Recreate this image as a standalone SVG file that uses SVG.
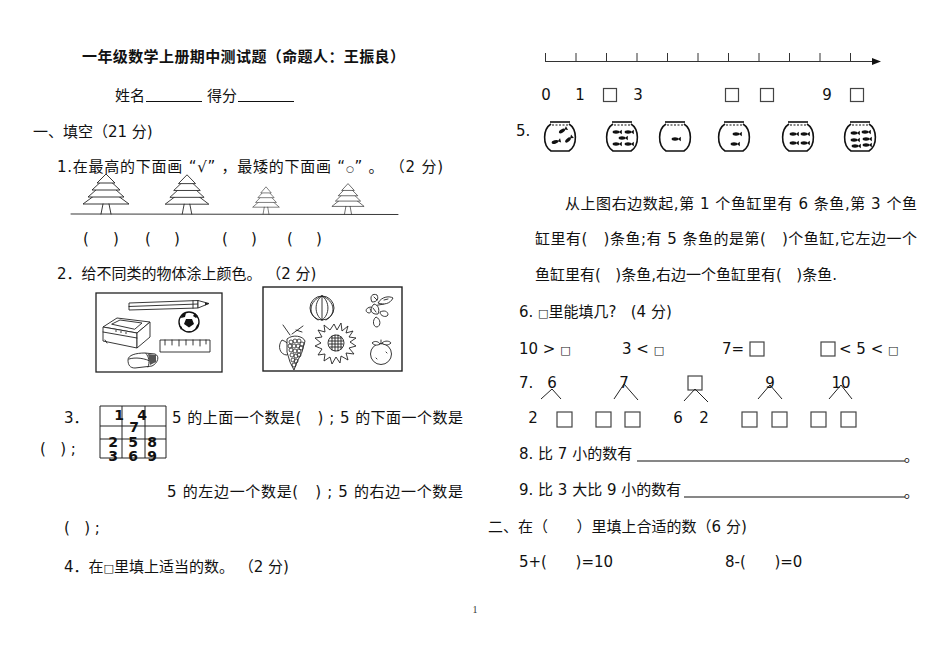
<svg xmlns="http://www.w3.org/2000/svg" xmlns:xlink="http://www.w3.org/1999/xlink" width="950" height="672" viewBox="0 0 950 672">
<style>
.t{font-family:"DejaVu Sans","Noto Sans CJK SC",sans-serif;font-size:15px;fill:#111;white-space:pre}
.b{font-weight:bold}
.sq{font-size:11px}
.g{font-family:"DejaVu Sans",sans-serif;font-size:14px;font-weight:bold;fill:#111}
.ln{stroke:#222;stroke-width:1;fill:none}
.sk{stroke:#222;stroke-width:0.9;fill:none;stroke-linecap:round;stroke-linejoin:round}
.skw{stroke:#222;stroke-width:0.9;fill:#fff;stroke-linejoin:round}
.bx{stroke:#444;stroke-width:1.2;fill:none}
.ul{stroke:#111;stroke-width:1.2}
</style>
<defs>
<g id="tree">
<path class="skw" d="M-23,-10 L0,-27 L23,-10 Z"/>
<path class="skw" d="M-18,-17 L0,-33 L18,-17 Z"/>
<path class="skw" d="M-14,-24 L0,-37 L14,-24 Z"/>
<path class="skw" d="M-9,-31 L0,-40 L9,-31 Z"/>
<path class="sk" d="M-3,-10 L-5,0 M3,-10 L5,0"/>
</g>
<g id="bowl">
<path stroke="#111" stroke-width="1.6" fill="none" d="M-9,-13 C-17,-8 -18,8 -9,14 L9,14 C18,8 17,-8 9,-13"/>
<path stroke="#111" stroke-width="1.6" fill="none" d="M-10,-15 L10,-15"/>
<path stroke="#111" stroke-width="1" fill="none" stroke-dasharray="2 1.5" d="M-8,-12 L8,-12"/>
</g>
<g id="fish">
<ellipse cx="0" cy="0" rx="3.4" ry="1.7" fill="#111"/>
<path d="M2.8,0 L5.8,-2.2 L5.8,2.2 Z" fill="#111"/>
</g>
</defs>
<rect width="950" height="672" fill="#fff"/>

<g id="left-column">
<text class="t b" x="82" y="62" textLength="323">一年级数学上册期中测试题（命题人：王振良）</text>
<g id="name-line">
<text class="t" x="115" y="101">姓名</text>
<line class="ul" x1="146" y1="101.5" x2="202" y2="101.5"/>
<text class="t" x="207" y="101">得分</text>
<line class="ul" x1="238" y1="101.5" x2="294" y2="101.5"/>
</g>
<text class="t" x="33" y="137">一、填空（21 分)</text>
<text class="t" x="57" y="172" textLength="386">1.在最高的下面画 “√” ，最矮的下面画 “<tspan font-size="9">○</tspan>” 。 （2 分)</text>

<g id="trees">
<line class="sk" x1="71" y1="214" x2="398" y2="214.5"/>
<use xlink:href="#tree" href="#tree" transform="translate(106,214)"/>
<use xlink:href="#tree" href="#tree" transform="translate(187,214) scale(0.95,0.98)"/>
<use xlink:href="#tree" href="#tree" transform="translate(266,214) scale(0.58,0.68)"/>
<use xlink:href="#tree" href="#tree" transform="translate(348,214) scale(0.7,0.76)"/>
</g>
<g id="tree-parens">
<text class="t" x="83" y="244">(</text><text class="t" x="113" y="244">)</text>
<text class="t" x="145" y="244">(</text><text class="t" x="174" y="244">)</text>
<text class="t" x="222" y="244">(</text><text class="t" x="251" y="244">)</text>
<text class="t" x="287" y="244">(</text><text class="t" x="316" y="244">)</text>
</g>

<text class="t" x="57" y="279">2．给不同类的物体涂上颜色。 （2 分)</text>

<g id="picture-1">
<rect x="96" y="293" width="126" height="79" fill="none" stroke="#222" stroke-width="1.3"/>
<path class="skw" d="M129,303 L198,300.5 L198,308 L129,310 Z"/>
<path class="sk" d="M129,306.5 L198,304 M193,300.7 L193,308.2"/>
<path class="skw" d="M198,300.5 L209,303.5 L198,308 Z"/>
<path d="M205,302.5 L209,303.5 L205,305.5 Z" fill="#222"/>
<circle cx="189" cy="322" r="10" fill="#fff" stroke="#111" stroke-width="1.4"/>
<path d="M186,319 L192,319 L194,324 L189,327.5 L184,324 Z" fill="#111"/>
<path d="M182,314 L186,313 L185,317 L181,318 Z M195,313 L198,316 L196,318 L193,316 Z M179,325 L182,327 L181,330 Z M197,325 L199,323 L198,328 L195,329 Z M187,331 L191,331 L190,332 Z" fill="#111"/>
<path class="skw" d="M103,327 L117,318 L150,322 L137,333 Z"/>
<path class="skw" d="M103,327 L137,333 L137,348 L103,341 Z"/>
<path class="skw" d="M137,333 L150,322 L150,337 L137,348 Z"/>
<path class="sk" d="M112,324 L120,320 L142,323 L135,329 Z"/>
<path class="sk" d="M103,332 L137,338 M105,340 L107,343"/>
<circle cx="116" cy="331" r="0.8" fill="#222"/><circle cx="121" cy="332" r="0.8" fill="#222"/><circle cx="126" cy="333" r="0.8" fill="#222"/>
<rect x="160" y="340" width="50" height="12" class="skw"/>
<path class="sk" d="M165,340 L165,345 M172,340 L172,345 M179,340 L179,346 M186,340 L186,345 M193,340 L193,345 M200,340 L200,346 M206,340 L206,344"/>
<path class="skw" d="M128,360 C128,355 136,353 145,353 L155,354 C160,356 158,363 152,366 L135,368 C130,368 128,365 128,360 Z"/>
<path class="sk" d="M129,359 C135,357 145,358 152,362 M146,353.5 C149,357 150,362 148,367"/>
<path d="M148,354 L156,355 L156,362 L150,365 Z" fill="#555"/>
</g>

<g id="picture-2">
<rect x="263" y="287" width="139" height="84" fill="none" stroke="#222" stroke-width="1.4"/>
<circle cx="322" cy="308" r="12" class="skw"/>
<path class="sk" d="M322,296 L322,320 M322,296 C314,301 314,315 322,320 M322,296 C330,301 330,315 322,320 M322,296 C308,301 308,315 318,320 M322,296 C336,301 336,315 326,320"/>
<path class="sk" d="M371,307 C366,307 364,312 369,313 C371,313 372,310 370,309 M373,306 L384,304"/>
<path class="skw" d="M372,302 C369,296 373,293 377,295 C379,299 377,302 372,302 Z"/>
<path class="skw" d="M378,303 C382,296 390,296 393,298 C390,304 384,305 378,303 Z"/>
<path class="skw" d="M374,304 C368,310 372,315 378,314 C380,309 378,305 374,304 Z"/>
<path class="skw" d="M376,317 C372,320 373,327 377,327 C381,326 381,319 376,317 Z"/>
<path class="skw" d="M380,312 C380,316 386,318 388,315 C388,311 384,310 380,312 Z"/>
<path class="sk" d="M374,297 L377,300 M384,300 L388,299 M373,308 L376,312"/>
<path class="sk" d="M290,335 L283,325 M292,334 L303,326 M296,330 L302,332"/>
<path class="skw" d="M282,340 C277,346 280,355 287,355 C292,352 291,343 282,340 Z"/>
<path class="skw" d="M287,339 C293,334 303,336 305,341 L302,352 L297,362 L294,370 L290,362 L287,352 Z"/>
<g fill="none" stroke="#222" stroke-width="0.8">
<circle cx="291" cy="342" r="2"/><circle cx="295" cy="341" r="2"/><circle cx="299" cy="341" r="2"/><circle cx="302" cy="344" r="2"/>
<circle cx="290" cy="346" r="2"/><circle cx="294" cy="346" r="2"/><circle cx="298" cy="346" r="2"/><circle cx="301" cy="348" r="2"/>
<circle cx="291" cy="350" r="2"/><circle cx="295" cy="351" r="2"/><circle cx="299" cy="351" r="2"/>
<circle cx="292" cy="355" r="2"/><circle cx="296" cy="356" r="2"/><circle cx="299" cy="355" r="2"/>
<circle cx="293" cy="360" r="2"/><circle cx="296" cy="361" r="2"/><circle cx="294" cy="365" r="2"/>
</g>
<path class="skw" d="M334,324 L337,330 L341,323 L342,331 L348,326 L346,333 L353,331 L349,337 L356,338 L350,342 L356,346 L349,348 L354,354 L346,353 L348,360 L341,356 L340,363 L336,357 L332,364 L330,357 L324,361 L325,354 L318,355 L322,349 L315,346 L321,343 L315,338 L322,337 L318,330 L325,332 L324,325 L330,330 Z"/>
<circle cx="336" cy="343" r="8" class="skw"/>
<path class="sk" d="M331,338 L341,338 M329,341 L343,341 M329,344 L343,344 M330,347 L342,347 M332,336 L332,350 M335,335 L335,351 M338,335 L338,351 M341,337 L341,349"/>
<circle cx="381" cy="354" r="10.5" class="skw"/>
<path class="sk" d="M381,344 L381,340 M376,358 L377,359 M386,352 L387,353"/>
<path class="skw" d="M372,343 C375,340 379,342 380,344 C377,346 374,345 372,343 Z"/>
<path class="skw" d="M382,343 C385,340 390,341 391,343 C388,346 384,345 382,343 Z"/>
</g>

<g id="item-3">
<text class="t" x="64" y="423">3．</text>
<g id="number-grid">
<path class="ln" stroke="#555" d="M100,406 L166,406 L166,458 L100,458 Z M122,406 L122,458 M145,406 L145,458 M100,426 L166,426 M100,439 L166,439"/>
<text class="g" x="119" y="419.5" text-anchor="middle">1</text>
<text class="g" x="142" y="419.5" text-anchor="middle">4</text>
<text class="g" x="134" y="432" text-anchor="middle">7</text>
<text class="g" x="113" y="447" text-anchor="middle">2</text>
<text class="g" x="133" y="447" text-anchor="middle">5</text>
<text class="g" x="152" y="447" text-anchor="middle">8</text>
<text class="g" x="113" y="461" text-anchor="middle">3</text>
<text class="g" x="133" y="461" text-anchor="middle">6</text>
<text class="g" x="152" y="461" text-anchor="middle">9</text>
</g>
<text class="t" x="172" y="423" textLength="291">5 的上面一个数是(   ) ; 5 的下面一个数是</text>
<text class="t" x="40" y="454">(   ) ;</text>
<text class="t" x="167" y="497" textLength="296">5 的左边一个数是(   ) ; 5 的右边一个数是</text>
<text class="t" x="64" y="533">(   ) ;</text>
</g>
<text class="t" x="64" y="572">4．在<tspan class="sq">□</tspan>里填上适当的数。 （2 分)</text>
</g>

<g id="right-column">
<g id="number-line">
<line x1="545.5" y1="61.5" x2="874" y2="61.5" stroke="#333" stroke-width="1.2"/>
<path d="M881,61.5 L872,58 L872,65 Z" fill="#111"/>
<path stroke="#333" stroke-width="1" d="M545.5,53 L545.5,62 M576,53 L576,62 M606.5,53 L606.5,62 M637,53 L637,62 M667.5,53 L667.5,62 M698,53 L698,62 M728.5,53 L728.5,62 M759,53 L759,62 M789.5,53 L789.5,62 M820,53 L820,62 M850.5,53 L850.5,62"/>
<text class="t" x="546" y="99.5" text-anchor="middle">0</text>
<text class="t" x="580" y="99.5" text-anchor="middle">1</text>
<rect class="bx" x="603.5" y="88.5" width="13" height="13"/>
<text class="t" x="638" y="99.5" text-anchor="middle">3</text>
<rect class="bx" x="725.5" y="88.5" width="13" height="13"/>
<rect class="bx" x="760.5" y="88.5" width="13" height="13"/>
<text class="t" x="827" y="99.5" text-anchor="middle">9</text>
<rect class="bx" x="850.5" y="88.5" width="13" height="13"/>
</g>

<g id="item-5">
<text class="t" x="516" y="136">5.</text>
<g transform="translate(560,137)"><use href="#bowl" xlink:href="#bowl"/>
<use href="#fish" xlink:href="#fish" transform="translate(2,-6) rotate(-30)"/>
<use href="#fish" xlink:href="#fish" transform="translate(-5,5) rotate(-15)"/>
<use href="#fish" xlink:href="#fish" transform="translate(8,3) rotate(-40)"/></g>
<g transform="translate(622,137)"><use href="#bowl" xlink:href="#bowl"/>
<use href="#fish" xlink:href="#fish" transform="translate(-6,-5)"/>
<use href="#fish" xlink:href="#fish" transform="translate(6,-5)"/>
<use href="#fish" xlink:href="#fish" transform="translate(0,1)"/>
<use href="#fish" xlink:href="#fish" transform="translate(-6,7)"/>
<use href="#fish" xlink:href="#fish" transform="translate(6,7)"/></g>
<g transform="translate(675,137)"><use href="#bowl" xlink:href="#bowl"/>
<use href="#fish" xlink:href="#fish" transform="translate(0,2)"/></g>
<g transform="translate(734,137)"><use href="#bowl" xlink:href="#bowl"/>
<use href="#fish" xlink:href="#fish" transform="translate(2,-3)"/>
<use href="#fish" xlink:href="#fish" transform="translate(0,7)"/></g>
<g transform="translate(798,137)"><use href="#bowl" xlink:href="#bowl"/>
<use href="#fish" xlink:href="#fish" transform="translate(-5,-3)"/>
<use href="#fish" xlink:href="#fish" transform="translate(6,-3)"/>
<use href="#fish" xlink:href="#fish" transform="translate(-5,6)"/>
<use href="#fish" xlink:href="#fish" transform="translate(6,6)"/></g>
<g transform="translate(860,137)"><use href="#bowl" xlink:href="#bowl"/>
<use href="#fish" xlink:href="#fish" transform="translate(-6,-4)"/>
<use href="#fish" xlink:href="#fish" transform="translate(5,-5)"/>
<use href="#fish" xlink:href="#fish" transform="translate(-6,3)"/>
<use href="#fish" xlink:href="#fish" transform="translate(6,2)"/>
<use href="#fish" xlink:href="#fish" transform="translate(-5,9)"/>
<use href="#fish" xlink:href="#fish" transform="translate(6,8)"/></g>
<text class="t" x="565" y="209" textLength="352">从上图右边数起,第 1 个鱼缸里有 6 条鱼,第 3 个鱼</text>
<text class="t" x="535" y="244" textLength="382">缸里有(   )条鱼;有 5 条鱼的是第(   )个鱼缸,它左边一个</text>
<text class="t" x="535" y="280" textLength="302">鱼缸里有(   )条鱼,右边一个鱼缸里有(   )条鱼.</text>
</g>

<g id="item-6">
<text class="t" x="519" y="317">6. <tspan class="sq">□</tspan>里能填几?   (4 分)</text>
<text class="t" x="519" y="354">10 &gt; <tspan class="sq">□</tspan></text>
<text class="t" x="622" y="354">3 &lt; <tspan class="sq">□</tspan></text>
<text class="t" x="722" y="354">7=</text>
<rect class="bx" x="750" y="342" width="14" height="14"/>
<rect class="bx" x="821" y="342" width="14" height="14"/>
<text class="t" x="839" y="354">&lt; 5 &lt; <tspan class="sq">□</tspan></text>
</g>

<g id="item-7">
<text class="t" x="519" y="388">7.</text>
<text class="t" x="552" y="388" text-anchor="middle">6</text>
<text class="t" x="624" y="388" text-anchor="middle">7</text>
<rect class="bx" x="688" y="376" width="14" height="14"/>
<text class="t" x="770" y="388" text-anchor="middle">9</text>
<text class="t" x="841" y="388" text-anchor="middle">10</text>
<g id="connectors">
<path class="ln" d="M552,389 L541,399 M552,389 L561,399 M624,384 L614,399 M624,384 L638,400 M695,389 L684,401 M695,389 L708,402 M770,385 L758,399 M770,385 L782,399 M841,385 L829,399 M841,385 L852,399"/>
</g>
<text class="t" x="533" y="423" text-anchor="middle">2</text>
<rect class="bx" x="557" y="412" width="15" height="15"/>
<rect class="bx" x="596" y="412" width="15" height="15"/>
<rect class="bx" x="625" y="412" width="15" height="15"/>
<text class="t" x="678" y="423" text-anchor="middle">6</text>
<text class="t" x="704" y="423" text-anchor="middle">2</text>
<rect class="bx" x="742" y="412" width="15" height="15"/>
<rect class="bx" x="772" y="412" width="15" height="15"/>
<rect class="bx" x="811" y="412" width="15" height="15"/>
<rect class="bx" x="841" y="412" width="15" height="15"/>
</g>

<g id="item-8-9">
<text class="t" x="519" y="459">8. 比 7 小的数有</text>
<line class="ul" x1="637" y1="461" x2="905" y2="461"/>
<text class="t" x="904" y="461" font-size="9">。</text>
<text class="t" x="519" y="495">9. 比 3 大比 9 小的数有</text>
<line class="ul" x1="684" y1="497" x2="905" y2="497"/>
<text class="t" x="904" y="497" font-size="9">。</text>
</g>

<g id="section-2">
<text class="t" x="488" y="532">二、在（      ）里填上合适的数（6 分)</text>
<text class="t" x="519" y="567">5+(      )=10</text>
<text class="t" x="725" y="567">8-(      )=0</text>
</g>
</g>

<text x="475" y="613" font-family="Liberation Serif,serif" font-size="10" fill="#333" text-anchor="middle">1</text>
</svg>
